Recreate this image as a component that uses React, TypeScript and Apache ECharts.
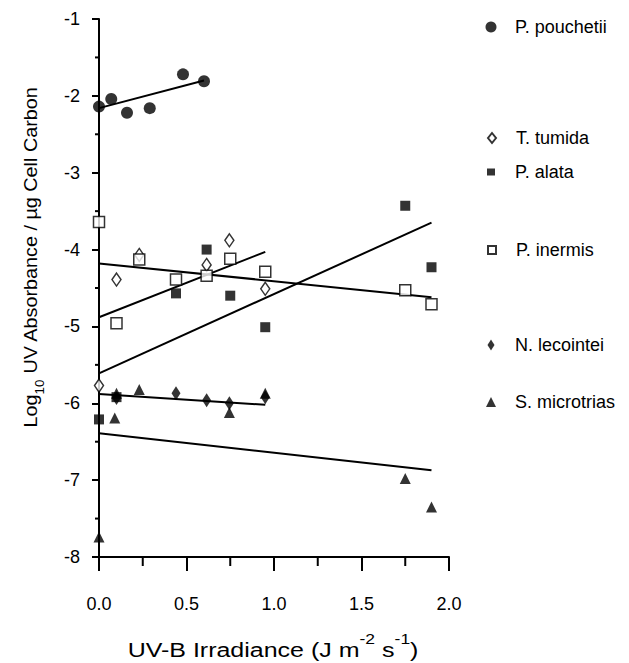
import React, { useEffect, useRef } from "react";
import * as echarts from "echarts";

const FONT = '"Liberation Sans", Arial, Helvetica, sans-serif';

// ---- data ----
const speciesNames = ["P. pouchetii", "T. tumida", "P. alata", "P. inermis", "N. lecointei", "S. microtrias"];

const pouchetiiX = [0, 0.07, 0.16, 0.29, 0.48, 0.6];
const pouchetiiY = [-2.14, -2.04, -2.22, -2.16, -1.72, -1.81];

const tumidaX = [0, 0.1, 0.23, 0.615, 0.745, 0.95];
const tumidaY = [-5.77, -4.39, -4.07, -4.2, -3.88, -4.51];

const alataX = [0, 0.1, 0.44, 0.615, 0.75, 0.95, 1.75, 1.9];
const alataY = [-6.21, -5.92, -4.57, -4.0, -4.6, -5.01, -3.43, -4.23];

const inermisX = [0, 0.1, 0.23, 0.44, 0.615, 0.75, 0.95, 1.75, 1.9];
const inermisY = [-3.64, -4.96, -4.13, -4.39, -4.34, -4.12, -4.29, -4.53, -4.71];

const lecointeiX = [0.1, 0.44, 0.615, 0.745, 0.95];
const lecointeiY = [-5.93, -5.87, -5.96, -6.0, -5.92];

const microtriasX = [0, 0.09, 0.1, 0.23, 0.745, 0.95, 1.75, 1.9];
const microtriasY = [-7.74, -6.19, -5.87, -5.82, -6.12, -5.87, -6.98, -7.35];

// regression lines: [x0, y0, x1, y1]
const pouchetiiFit = [0, -2.16, 0.6, -1.8];
const tumidaFit = [0, -4.88, 0.95, -4.03];
const alataFit = [0, -5.61, 1.9, -3.65];
const inermisFit = [0, -4.18, 1.9, -4.62];
const lecointeiFit = [0, -5.88, 0.95, -6.02];
const microtriasFit = [0, -6.39, 1.9, -6.87];

const xTicks = [0, 0.5, 1.0, 1.5, 2.0];
const yTicks = [-1, -2, -3, -4, -5, -6, -7, -8];
const xMinorTicks = [0.25, 0.75, 1.25, 1.75];
const yMinorTicks = [-1.5, -2.5, -3.5, -4.5, -5.5, -6.5, -7.5];

const xTitle = "UV-B Irradiance (J m{sup|-2} s{sup|-1})";
const yTitle = "Log{sub|10} UV Absorbance / µg Cell Carbon";

const zip = (xs: number[], ys: number[]) => xs.map((x, i) => [x, ys[i]]);
const fitData = (f: number[]) => [[f[0], f[1]], [f[2], f[3]]];

export default function App() {
  const ref = useRef<HTMLDivElement>(null);
  useEffect(() => {
    document.body.style.margin = "0";
    if (!ref.current) return;
    const chart = echarts.init(ref.current, undefined, { renderer: "svg" });

    const filled = { color: "#000" };
    const open = { color: "#fff", borderColor: "#000", borderWidth: 1.5 };

    const styles: any[] = [
      { symbol: "circle", size: 12, item: filled, lsize: [11, 11] },
      { symbol: "diamond", size: [9, 13], item: open, lsize: [8, 10] },
      { symbol: "rect", size: 10, item: filled, lsize: [8, 7] },
      { symbol: "rect", size: 11, item: open, lsize: [8, 8] },
      { symbol: "diamond", size: [9, 14], item: filled, lsize: [7, 11] },
      { symbol: "triangle", size: 11, item: filled, lsize: [10, 10] },
    ];
    const pts = [
      zip(pouchetiiX, pouchetiiY),
      zip(tumidaX, tumidaY),
      zip(alataX, alataY),
      zip(inermisX, inermisY),
      zip(lecointeiX, lecointeiY),
      zip(microtriasX, microtriasY),
    ];
    const fits = [pouchetiiFit, tumidaFit, alataFit, inermisFit, lecointeiFit, microtriasFit];

    const xMin = xTicks[0];
    const xMax = xTicks[xTicks.length - 1];
    const yMin = yTicks[yTicks.length - 1];
    const yMax = yTicks[0];

    const lineSeries = fits.map((f, i) => ({
      type: "line",
      name: speciesNames[i] + " fit",
      data: fitData(f),
      symbol: "none",
      lineStyle: { color: "#000", width: 2 },
      z: 2,
      silent: true,
    }));
    const scatterSeries = pts.map((d, i) => ({
      type: "scatter",
      name: speciesNames[i],
      data: d,
      symbol: styles[i].symbol,
      symbolSize: styles[i].size,
      itemStyle: styles[i].item,
      z: 3,
    }));

    // minor ticks: [x, y, dx, dy] where (dx, dy) is the pixel direction of the tick
    const minorData = [
      ...xMinorTicks.map((v) => [v, yMin, 0, 9]),
      ...yMinorTicks.map((v) => [xMin, v, -4, 0]),
    ];
    const minorSeries = {
      type: "custom",
      name: "minor ticks",
      data: minorData,
      clip: false,
      silent: true,
      z: 1,
      renderItem: (_params: any, api: any) => {
        const p = api.coord([api.value(0), api.value(1)]);
        const dx = api.value(2);
        const dy = api.value(3);
        return {
          type: "line",
          shape: { x1: p[0], y1: p[1], x2: p[0] + dx, y2: p[1] + dy },
          style: { stroke: "#000", lineWidth: 2 },
        };
      },
    };

    const legendCenters = [28, 139, 173, 251, 346, 403];
    const iconCx = 491;
    const textX = 515;
    const legends = speciesNames.map((n, i) => {
      const [w, h] = styles[i].lsize;
      const left = iconCx - w / 2;
      return {
        data: [n],
        left,
        top: legendCenters[i] - 10,
        itemWidth: w,
        itemHeight: h,
        selectedMode: false,
        padding: 0,
        textStyle: {
          fontSize: 18,
          fontFamily: FONT,
          color: "#000",
          padding: [0, 0, 0, textX - (left + w + 5)],
        },
      };
    });

    const titles: any[] = [
      {
        type: "text",
        x: 273,
        y: 646,
        scaleX: 1.25,
        style: {
          text: "{a|" + xTitle.replace(/\{sup\|([^}]*)\}/g, "}{sup|$1}{a|") + "}",
          align: "center",
          verticalAlign: "middle",
          rich: {
            a: { fontSize: 20, fontFamily: FONT, fill: "#000", lineHeight: 28, verticalAlign: "bottom" },
            sup: { fontSize: 14, fontFamily: FONT, fill: "#000", lineHeight: 14, verticalAlign: "top" },
          },
        },
      },
      {
        type: "text",
        x: 34,
        y: 257,
        rotation: Math.PI / 2,
        scaleX: 1.1,
        style: {
          text: "{a|" + yTitle.replace(/\{sub\|([^}]*)\}/g, "}{sub|$1}{a|") + "}",
          align: "center",
          verticalAlign: "middle",
          rich: {
            a: { fontSize: 18, fontFamily: FONT, fill: "#000", lineHeight: 24, verticalAlign: "top" },
            sub: { fontSize: 12, fontFamily: FONT, fill: "#000", lineHeight: 12, verticalAlign: "bottom" },
          },
        },
      },
    ];

    chart.setOption({
      animation: false,
      backgroundColor: "#fff",
      textStyle: { fontFamily: FONT, color: "#000" },
      grid: { left: 99, top: 19, right: 180, bottom: 106, containLabel: false },
      legend: legends,
      xAxis: {
        type: "value",
        position: "bottom",
        min: xMin,
        max: xMax,
        interval: 0.5,
        axisLine: { show: true, onZero: false, lineStyle: { color: "#000", width: 2 } },
        axisTick: { show: true, inside: false, length: 14, lineStyle: { color: "#000", width: 2 } },
        splitLine: { show: false },
        axisLabel: {
          margin: 38,
          fontSize: 18,
          fontFamily: FONT,
          color: "#000",
          formatter: (v: number) => v.toFixed(1),
        },
      },
      yAxis: {
        type: "value",
        position: "left",
        min: yMin,
        max: yMax,
        interval: 1,
        axisLine: { show: true, onZero: false, lineStyle: { color: "#000", width: 2 } },
        axisTick: { show: true, inside: false, length: 7, lineStyle: { color: "#000", width: 2 } },
        splitLine: { show: false },
        axisLabel: {
          margin: 19,
          fontSize: 18,
          fontFamily: FONT,
          color: "#000",
          formatter: (v: number) => String(v),
        },
      },
      graphic: titles,
      series: [...lineSeries, ...scatterSeries, minorSeries],
    });

    return () => chart.dispose();
  }, []);
  return <div ref={ref} style={{ width: 629, height: 663 }} />;
}
